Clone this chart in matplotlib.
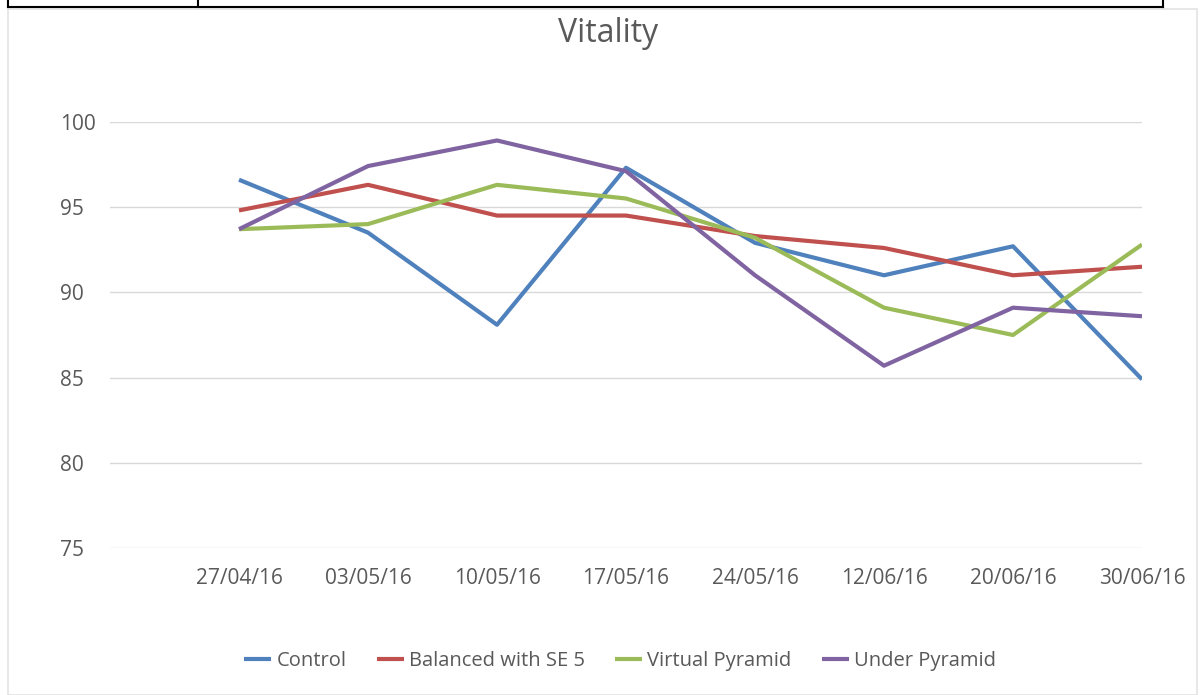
import matplotlib
matplotlib.use("Agg")
import matplotlib.pyplot as plt
from matplotlib.lines import Line2D
from matplotlib.patches import Rectangle

dates = ["27/04/16", "03/05/16", "10/05/16", "17/05/16",
         "24/05/16", "12/06/16", "20/06/16", "30/06/16"]
control = [96.6, 93.5, 88.1, 97.3, 92.9, 91.0, 92.7, 84.9]
balanced = [94.8, 96.3, 94.5, 94.5, 93.3, 92.6, 91.0, 91.5]
virtual = [93.7, 94.0, 96.3, 95.5, 93.2, 89.1, 87.5, 92.8]
under = [93.7, 97.4, 98.9, 97.1, 91.0, 85.7, 89.1, 88.6]

series_names = ["Control", "Balanced with SE 5", "Virtual Pyramid", "Under Pyramid"]
colors = ["#4F81BD", "#C0504D", "#9BBB59", "#8064A2"]
yticks = [75, 80, 85, 90, 95, 100]

plt.rcParams['font.family'] = ['Open Sans', 'DejaVu Sans']
W, H = 1200, 695
fig = plt.figure(figsize=(12, 6.95), dpi=100)
fig.patch.set_facecolor("white")

# chart area border and table remnant at top
fig.add_artist(Rectangle((8 / W, 0), (1197 - 8) / W, 1 - 9 / H, transform=fig.transFigure,
                         fill=False, edgecolor="#E3E3E3", linewidth=1.2))
lw_tab = 1.5
fig.add_artist(Line2D([8 / W, 1163 / W], [1 - 7 / H, 1 - 7 / H], transform=fig.transFigure,
                      color="black", linewidth=lw_tab))
for xx in (8, 198, 1163):
    fig.add_artist(Line2D([xx / W, xx / W], [1 - 7 / H, 1], transform=fig.transFigure,
                          color="black", linewidth=lw_tab))

ax = fig.add_axes([110 / W, 1 - 548.3 / H, (1142 - 110) / W, (548.3 - 121.7) / H])
x = list(range(1, len(dates) + 1))
for vals, name, c in zip([control, balanced, virtual, under], series_names, colors):
    ax.plot(x, vals, color=c, linewidth=3.0, label=name,
            solid_joinstyle="round", solid_capstyle="butt")

ax.set_xlim(0, len(dates))
ax.set_ylim(75, 100)
ax.set_yticks(yticks)
ax.set_xticks(x)
ax.set_xticklabels(dates)
for s in ax.spines.values():
    s.set_visible(False)
ax.grid(axis="y", color="#D9D9D9", linewidth=1.0)
ax.set_axisbelow(True)
ax.tick_params(axis="both", length=0, labelsize=15, labelcolor="#595959")
ax.tick_params(axis="y", pad=36)
for lab in ax.get_yticklabels():
    lab.set_horizontalalignment("left")
ax.tick_params(axis="x", pad=14.5)

fig.text(608 / W, 1 - 34 / H, "Vitality", ha="center", va="center",
         fontsize=23, color="#595959")

leg = fig.legend(loc="center", bbox_to_anchor=(620 / W, 1 - 661 / H), ncol=4,
                 frameon=False, fontsize=14.5, handlelength=1.35, handletextpad=0.25,
                 columnspacing=1.5, labelcolor="#595959")
for h in leg.get_lines():
    h.set_linewidth(3.0)

fig.savefig("out.png", dpi=100, facecolor="white")
